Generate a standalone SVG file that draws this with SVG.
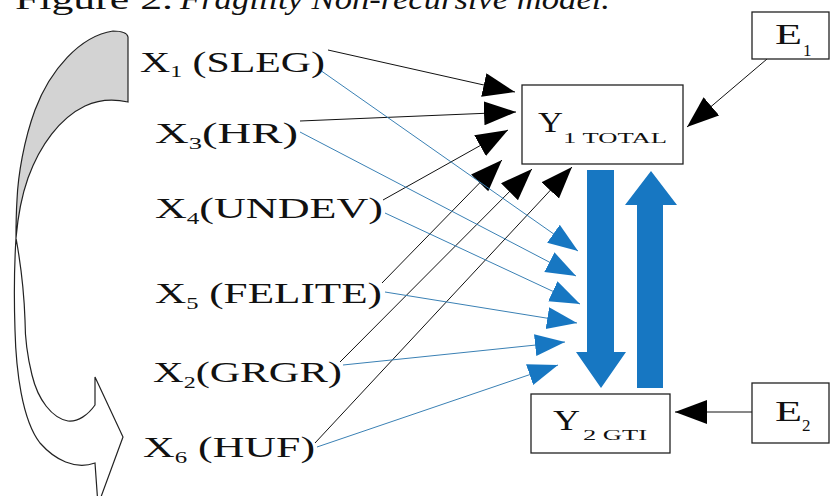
<svg xmlns="http://www.w3.org/2000/svg" width="830" height="496" viewBox="0 0 830 496">
<style>
  text { font-family: "Liberation Serif", "DejaVu Serif", serif; fill: #111; }
  .lbl { font-size: 30px; }
  .sub { font-size: 17px; }
  .small { font-size: 14px; }
  .box { fill: #fff; stroke: #222; stroke-width: 1.3; }
  .blk { stroke: #111; stroke-width: 1; fill: none; marker-end: url(#ahBlack); }
  .blu { stroke: #3a80b4; stroke-width: 1; fill: none; marker-end: url(#ahBlue); }
  .bigblue { fill: #1777c2; }
  .curve { stroke: #222; stroke-width: 1.2; }
</style>
<defs>
  <marker id="ahBlack" markerUnits="userSpaceOnUse" markerWidth="34" markerHeight="26" refX="32" refY="12" orient="auto">
    <path d="M0,0 L32,12 L0,24 Z" fill="#000"/>
  </marker>
  <marker id="ahBlue" markerUnits="userSpaceOnUse" markerWidth="32" markerHeight="24" refX="30" refY="11" orient="auto">
    <path d="M0,0 L30,11 L0,22 Z" fill="#1777c2"/>
  </marker>
</defs>
<rect width="830" height="496" fill="#fff"/>

<g id="title">
  <text x="15" y="9" class="lbl" textLength="158" lengthAdjust="spacingAndGlyphs">Figure 2.</text>
  <text x="180" y="9" class="lbl" font-style="italic" textLength="430" lengthAdjust="spacingAndGlyphs">Fragility Non-recursive model.</text>
</g>

<g id="curved-arrow">
  <path class="curve" fill="#d3d3d3" d="M128,102 L128,37 Q127,31 113,31 C80,36 50,70 35,110 C24,140 18,175 17,200 C16,215 16,228 16,238 C18,215 22,195 28,178 C40,145 60,118 85,106 C100,99 115,99 128,102 Z"/>
  <path class="curve" fill="#fff" d="M16,238 C14,270 14,300 15,330 C16,370 22,420 40,443 C55,460 75,470 95,463 L98,505 L123,437 L95,377 L95,405 C88,415 78,422 68,421 C52,418 38,400 32,375 C27,355 25,335 25,320 C24,290 20,260 16,238 Z"/>
</g>

<g id="connectors">
  <line class="blk" x1="328" y1="50" x2="515" y2="92"/>
  <line class="blk" x1="300" y1="121" x2="516" y2="112"/>
  <line class="blk" x1="383" y1="200" x2="508" y2="130"/>
  <line class="blk" x1="382" y1="283" x2="502" y2="160"/>
  <line class="blk" x1="340" y1="362" x2="532" y2="169"/>
  <line class="blk" x1="315" y1="443" x2="572" y2="167"/>

  <line class="blu" x1="320" y1="70" x2="578" y2="251"/>
  <line class="blu" x1="300" y1="132" x2="576" y2="276"/>
  <line class="blu" x1="385" y1="213" x2="580" y2="304"/>
  <line class="blu" x1="385" y1="292" x2="577" y2="323"/>
  <line class="blu" x1="343" y1="365" x2="565" y2="342"/>
  <line class="blu" x1="317" y1="447" x2="558" y2="365"/>

  <line class="blk" x1="767" y1="59" x2="687" y2="127"/>
  <line class="blk" x1="752" y1="412" x2="675" y2="412"/>

  <path class="bigblue" d="M587,170 L614,170 L614,352 L626,352 L601,388 L576,352 L587,352 Z"/>
  <path class="bigblue" d="M637,388 L663,388 L663,205 L677,205 L651,171 L625,205 L637,205 Z"/>
</g>

<g id="X1">
  <text x="140" y="72" class="lbl" textLength="185" lengthAdjust="spacingAndGlyphs">X<tspan class="sub" dy="5">1</tspan><tspan dy="-5"> (SLEG)</tspan></text>
</g>
<g id="X3">
  <text x="155" y="143" class="lbl" textLength="143" lengthAdjust="spacingAndGlyphs">X<tspan class="sub" dy="6">3</tspan><tspan dy="-6">(HR)</tspan></text>
</g>
<g id="X4">
  <text x="155" y="218" class="lbl" textLength="228" lengthAdjust="spacingAndGlyphs">X<tspan class="sub" dy="6">4</tspan><tspan dy="-6">(UNDEV)</tspan></text>
</g>
<g id="X5">
  <text x="155" y="303" class="lbl" textLength="227" lengthAdjust="spacingAndGlyphs">X<tspan class="sub" dy="6">5</tspan><tspan dy="-6"> (FELITE)</tspan></text>
</g>
<g id="X2">
  <text x="153" y="382" class="lbl" textLength="189" lengthAdjust="spacingAndGlyphs">X<tspan class="sub" dy="6">2</tspan><tspan dy="-6">(GRGR)</tspan></text>
</g>
<g id="X6">
  <text x="143" y="457" class="lbl" textLength="172" lengthAdjust="spacingAndGlyphs">X<tspan class="sub" dy="6">6</tspan><tspan dy="-6"> (HUF)</tspan></text>
</g>

<g id="Y1">
  <rect class="box" x="522" y="85" width="161" height="79"/>
  <text x="538" y="132" class="lbl" textLength="25" lengthAdjust="spacingAndGlyphs">Y</text>
  <text x="563" y="143" class="small" textLength="104" lengthAdjust="spacingAndGlyphs">1 TOTAL</text>
</g>
<g id="Y2">
  <rect class="box" x="531" y="394" width="139" height="59"/>
  <text x="553" y="430" class="lbl" textLength="27" lengthAdjust="spacingAndGlyphs">Y</text>
  <text x="583" y="440" class="small" textLength="64" lengthAdjust="spacingAndGlyphs">2 GTI</text>
</g>
<g id="E1">
  <rect class="box" x="752" y="12" width="77" height="47"/>
  <text x="775" y="44" class="lbl" textLength="27" lengthAdjust="spacingAndGlyphs">E</text>
  <text x="803" y="56" class="sub">1</text>
</g>
<g id="E2">
  <rect class="box" x="752" y="383" width="77" height="60"/>
  <text x="775" y="421" class="lbl" textLength="27" lengthAdjust="spacingAndGlyphs">E</text>
  <text x="802" y="431" class="sub">2</text>
</g>
</svg>
